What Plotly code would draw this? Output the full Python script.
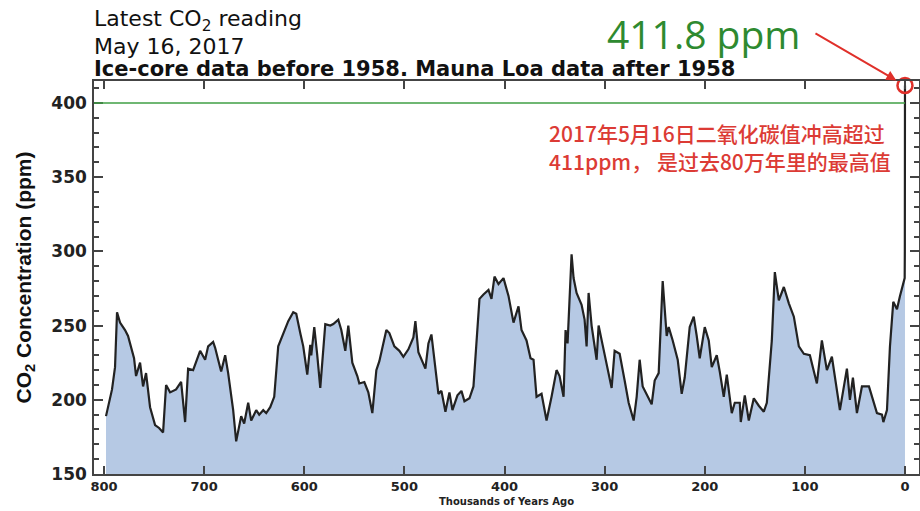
import plotly.graph_objects as go

# ---- data ----
kyr_ago = [798, 795, 792, 789, 787, 784, 781, 779, 776, 773, 770, 768, 764, 761, 758, 754, 749, 745, 741, 738,
           734, 728, 723, 719, 716, 711, 707, 704, 699, 696, 691, 689, 686, 683, 679, 676, 671, 668, 663, 660,
           656, 653, 648, 645, 641, 638, 634, 631, 630, 626, 621, 616, 611, 608, 604, 601, 597, 594, 593, 590,
           587, 584, 579, 574, 571, 566, 563, 559, 556, 552, 547, 545, 540, 536, 532, 528, 525, 518, 515, 510,
           505, 501, 496, 491, 489, 486, 479, 476, 473, 469, 466, 463, 459, 455, 452, 447, 443, 440, 435, 431,
           429, 425, 421, 416, 413, 410, 406, 401, 396, 391, 386, 383, 378, 374, 371, 368, 363, 358, 353, 348,
           345, 341, 339, 337, 333, 331, 328, 323, 320, 318, 316, 313, 308, 306, 302, 296, 293, 290, 285, 280,
           276, 271, 268, 265, 262, 253, 250, 246, 242, 238, 236, 232, 227, 223, 220, 215, 211, 208, 205, 200,
           196, 193, 188, 185, 181, 178, 173, 170, 165, 164, 160, 156, 151, 146, 141, 138, 133, 130, 126, 121,
           116, 111, 106, 101, 95, 88, 83, 78, 73, 65, 58, 55, 52, 48, 43, 36, 31, 28, 23, 21.6,
           18, 15, 11.7, 8, 5, 1.7, 0.3, 0.15, 0.0]
co2_ppm = [189, 198, 207, 222, 259, 252, 249, 247, 243, 236, 228, 216, 225, 209, 218, 195, 183, 181, 178, 210,
           205, 207, 212, 185, 221, 220, 228, 233, 227, 236, 239, 235, 227, 219, 230, 218, 193, 172, 189, 184,
           198, 186, 193, 190, 193, 191, 195, 200, 202, 236, 245, 253, 259, 258, 245, 236, 217, 237, 230, 249,
           230, 208, 251, 250, 251, 254, 247, 233, 250, 225, 216, 211, 212, 205, 191, 220, 226, 247, 245, 236,
           233, 229, 234, 242, 253, 232, 221, 238, 244, 220, 204, 206, 192, 205, 193, 203, 206, 199, 201, 209,
           227, 268, 271, 274, 268, 283, 278, 282, 270, 252, 263, 247, 240, 228, 227, 202, 204, 186, 202, 220,
           216, 202, 247, 238, 298, 282, 272, 264, 254, 236, 272, 250, 227, 250, 237, 218, 208, 233, 231, 213,
           198, 186, 202, 227, 209, 197, 213, 218, 280, 243, 249, 240, 227, 204, 215, 249, 256, 243, 228, 249,
           240, 222, 230, 219, 202, 217, 191, 198, 198, 185, 203, 186, 201, 196, 192, 198, 240, 286, 267, 276,
           265, 256, 236, 231, 230, 211, 240, 220, 229, 193, 221, 200, 215, 191, 209, 209, 198, 191, 190, 185,
           193, 236, 266, 261, 270, 279, 282, 300, 411.8]

x_ticks = [800, 700, 600, 500, 400, 300, 200, 100, 0]
y_ticks = [150, 200, 250, 300, 350, 400]
x_range = [810, -14]
y_range = [150, 414.8]
ref_level = 400

title_lines = ["Latest CO<sub>2</sub> reading", "May 16, 2017",
               "<b>Ice-core data before 1958. Mauna Loa data after 1958</b>"]
latest_label = "411.8 ppm"
cn_lines = ["2017年5月16日二氧化碳值冲高超过", "411ppm， 是过去80万年里的最高值"]

fig = go.Figure()
fig.add_trace(go.Scatter(
    x=kyr_ago, y=co2_ppm, mode="lines", fill="tozeroy",
    fillcolor="#b6c9e4", line=dict(color="#222222", width=2.2),
    hoverinfo="skip", showlegend=False))

# red circle on latest reading
fig.add_trace(go.Scatter(
    x=[kyr_ago[-1]], y=[co2_ppm[-1]], mode="markers",
    marker=dict(symbol="circle-open", size=15, color="#e0302a", line=dict(width=2.5, color="#e0302a")),
    cliponaxis=False, showlegend=False, hoverinfo="skip"))

fig.add_shape(type="line", xref="x", yref="y", x0=x_range[0], x1=kyr_ago[-1], y0=ref_level, y1=ref_level,
              line=dict(color="#3f9f45", width=1.5))

annos = []
ty = [1.155, 1.088, 1.031]
for t, yy in zip(title_lines, ty):
    annos.append(dict(text=t, xref="paper", yref="paper", x=-0.002, y=yy, xanchor="left", yanchor="middle",
                      showarrow=False, font=dict(family="DejaVu Sans", size=22 if yy > 1.05 else 21, color="#111")))
annos.append(dict(text=latest_label, xref="paper", yref="paper", x=0.739, y=1.122, xanchor="center",
                  yanchor="middle", showarrow=False, font=dict(family="Open Sans", size=39, color="#2e8a30")))
annos.append(dict(text="", x=kyr_ago[-1], y=co2_ppm[-1], xref="x", yref="y", ax=-91, ay=-53,
                  showarrow=True, arrowhead=2, arrowsize=1, arrowwidth=2, arrowcolor="#e0302a", standoff=10))
for t, yy in zip(cn_lines, [0.868, 0.796]):
    annos.append(dict(text=t, xref="paper", yref="paper", x=0.549, y=yy, xanchor="left", yanchor="middle",
                      showarrow=False, font=dict(family="Noto Sans CJK SC", size=21, color="#dc3b35", weight=500)))

fig.update_layout(
    width=920, height=511, paper_bgcolor="white", plot_bgcolor="white",
    margin=dict(l=94, r=1, t=81, b=37),
    annotations=annos,
    xaxis=dict(range=x_range, tickvals=x_ticks, ticks="inside", ticklen=8, tickwidth=1.5, tickcolor="#444",
               showline=True, linecolor="#444", linewidth=1.5, mirror="ticks", showgrid=False, zeroline=False,
               automargin=False,
               tickfont=dict(family="DejaVu Sans", size=13, color="#222", weight="bold"),
               ticklabelstandoff=0,
               title=dict(text="<b>Thousands of Years Ago</b>", font=dict(family="DejaVu Sans", size=10, color="#222"),
                          standoff=5)),
    yaxis=dict(range=y_range, tickvals=y_ticks, ticks="inside", ticklen=9, tickwidth=1.5, tickcolor="#444",
               showline=True, linecolor="#444", linewidth=1.5, mirror="ticks", showgrid=False, zeroline=False,
               automargin=False,
               minor=dict(dtick=10, ticks="inside", ticklen=5, tickcolor="#444", showgrid=False),
               tickfont=dict(family="DejaVu Sans", size=17, color="#222", weight="bold"),
               ticklabelstandoff=2,
               title=dict(text="<b>CO<sub>2</sub> Concentration (ppm)</b>",
                          font=dict(family="Liberation Sans", size=21, color="#111"), standoff=14)),
)

fig.write_html("out.html", config={"displayModeBar": False},
               post_script="document.body.style.margin='0';document.body.style.overflow='hidden';")
